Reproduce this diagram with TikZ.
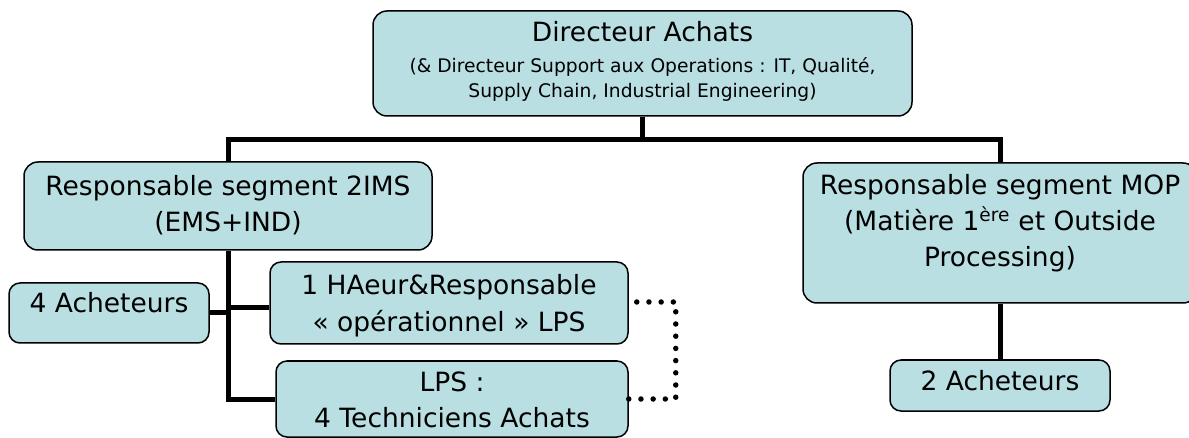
\documentclass[tikz,border=0pt]{standalone}
\usepackage{fontspec}
\setmainfont{DejaVu Sans}
\definecolor{boxfill}{RGB}{185,223,227}
\tikzset{
  box/.style={draw=black, line width=1.5pt, fill=boxfill, rounded corners=14pt,
    inner sep=0pt, align=center, font=\fontsize{26.5}{36}\selectfont},
  smallbox/.style={box, rounded corners=11pt},
  tb/.style 2 args={text height=#1pt, text depth=#2pt},
  conn/.style={line width=5pt},
  dotline/.style={line width=5.5pt, line cap=round, dash pattern=on 0pt off 12.2pt}
}
\begin{document}
\begin{tikzpicture}[x=1pt, y=-1pt]
\useasboundingbox (0,0) rectangle (1189,438);
% nodes
\node[box, minimum width=539pt, minimum height=105pt, tb={69}{0},
      font=\fontsize{18.7}{25}\selectfont] (top) at (642.5,63.5)
  {{\fontsize{26.5}{30}\selectfont Directeur Achats}\\[6pt]
   (\& Directeur Support aux Operations : IT, Qualité,\\
   Supply Chain, Industrial Engineering)};
\node[box, minimum width=408pt, minimum height=88pt, tb={52}{0}] (ims) at (228,206)
  {Responsable segment 2IMS\\(EMS+IND)};
\node[box, minimum width=394pt, minimum height=140pt, tb={68}{0}] (mop) at (1000,233)
  {Responsable segment MOP\\(Matière 1\textsuperscript{ère} et Outside\\Processing)};
\node[smallbox, minimum width=200pt, minimum height=60pt, tb={0}{0}] (a4) at (109,313)
  {4 Acheteurs};
\node[smallbox, minimum width=358pt, minimum height=82pt, tb={56}{0}] (hae) at (449,303)
  {1 HAeur\&Responsable\\« opérationnel » LPS};
\node[smallbox, minimum width=352pt, minimum height=76pt, tb={56}{0}] (lps) at (452,399)
  {LPS :\\4 Techniciens Achats};
\node[smallbox, minimum width=220pt, minimum height=51pt, tb={9}{0}] (a2) at (1000,385.5)
  {2 Acheteurs};
% connectors
\coordinate (bus) at (642.5,140);
\draw[conn] (top.south) -- (top.south |- bus);
\draw[conn] (ims.north) |- (bus) -| (mop.north);
\draw[conn] (ims.south) |- (lps.west);
\draw[conn] (a4.east) -- (a4.east -| ims.south);
\draw[conn] ([yshift=-5pt]hae.west) -- ([yshift=-5pt]hae.west -| ims.south);
\draw[conn] (mop.south) -- (a2.north);
\draw[dotline] ([xshift=8pt,yshift=1pt]hae.east) -- ++(39,0) |- (lps.east);
\end{tikzpicture}
\end{document}
